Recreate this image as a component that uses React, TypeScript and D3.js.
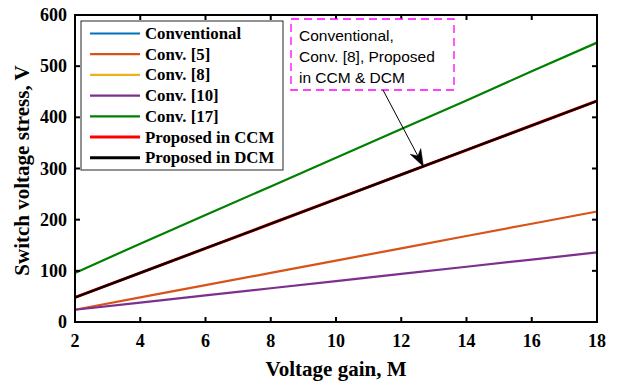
import React from "react";
import * as d3 from "d3";

// Voltage gain M sampled along the x-axis
const gains = [2, 4, 6, 8, 10, 12, 14, 16, 18];

// Switch voltage stress (V) for each converter
const conventional = [48, 96, 144, 192, 240, 288, 336, 384, 432];
const conv5 = [24, 48, 72, 96, 120, 144, 168, 192, 216];
const conv8 = [48, 96, 144, 192, 240, 288, 336, 384, 432];
const conv10 = [24, 38, 52, 66, 80, 94, 108, 122, 136];
const conv17 = [96, 153, 209, 265, 321, 377, 433, 490, 546];
const proposedCCM = [48, 96, 144, 192, 240, 288, 336, 384, 432];
const proposedDCM = [48, 96, 144, 192, 240, 288, 336, 384, 432];

const seriesNames = [
  "Conventional",
  "Conv. [5]",
  "Conv. [8]",
  "Conv. [10]",
  "Conv. [17]",
  "Proposed in CCM",
  "Proposed in DCM",
];
const seriesColors = ["#0072BD", "#D95319", "#EDB120", "#7E2F8E", "#008000", "#FF0000", "#000000"];
const seriesValues = [conventional, conv5, conv8, conv10, conv17, proposedCCM, proposedDCM];

const xTicks = [2, 4, 6, 8, 10, 12, 14, 16, 18];
const yTicks = [0, 100, 200, 300, 400, 500, 600];

const noteLines = ["Conventional,", "Conv. [8], Proposed", "in CCM & DCM"];
const noteTarget = { m: 12.68, v: 304 };

const W = 618;
const H = 383;
const plot = { left: 75, right: 597, top: 15, bottom: 322 };
const serif = "'Liberation Serif', 'Times New Roman', serif";
const sans = "'Liberation Sans', Arial, sans-serif";

export default function App() {
  const x = d3.scaleLinear().domain([2, 18]).range([plot.left, plot.right]);
  const y = d3.scaleLinear().domain([0, 600]).range([plot.bottom, plot.top]);
  const line = d3
    .line<[number, number]>()
    .x((d) => x(d[0]))
    .y((d) => y(d[1]));

  const tick = 5;
  const tipX = x(noteTarget.m);
  const tipY = y(noteTarget.v);
  const startX = 383;
  const startY = 90;
  const ang = Math.atan2(tipY - startY, tipX - startX);
  const headLen = 17;
  const headW = 6;
  const bx = tipX - headLen * Math.cos(ang);
  const by = tipY - headLen * Math.sin(ang);
  const nx = -Math.sin(ang);
  const ny = Math.cos(ang);
  const backX = tipX - headLen * 0.7 * Math.cos(ang);
  const backY = tipY - headLen * 0.7 * Math.sin(ang);
  const headPath = `M${tipX},${tipY} L${bx + nx * headW},${by + ny * headW} L${backX},${backY} L${bx - nx * headW},${by - ny * headW} Z`;

  const legend = { x: 81, y: 21, w: 202, h: 149, row: 20.7, first: 33.5 };

  return (
    <svg
      width={W}
      height={H}
      style={{ position: "absolute", left: 0, top: 0, background: "#fff" }}
    >
      <rect x={0} y={0} width={W} height={H} fill="#fff" />

      {/* data lines */}
      <g fill="none" strokeLinejoin="round">
        {seriesValues.map((vals, i) => (
          <path
            key={seriesNames[i]}
            d={line(gains.map((g, j) => [g, vals[j]] as [number, number])) || ""}
            stroke={seriesColors[i]}
            strokeWidth={i === 5 ? 3 : 2.2}
          />
        ))}
      </g>

      {/* axes box with inward ticks */}
      <g stroke="#000" strokeWidth={2}>
        <rect
          x={plot.left}
          y={plot.top}
          width={plot.right - plot.left}
          height={plot.bottom - plot.top}
          fill="none"
        />
        {xTicks.map((t) => (
          <g key={"xt" + t}>
            <line x1={x(t)} x2={x(t)} y1={plot.bottom} y2={plot.bottom - tick} />
            <line x1={x(t)} x2={x(t)} y1={plot.top} y2={plot.top + tick} />
          </g>
        ))}
        {yTicks.map((t) => (
          <g key={"yt" + t}>
            <line x1={plot.left} x2={plot.left + tick} y1={y(t)} y2={y(t)} />
            <line x1={plot.right} x2={plot.right - tick} y1={y(t)} y2={y(t)} />
          </g>
        ))}
      </g>

      {/* tick labels */}
      <g fontFamily={serif} fontWeight="bold" fontSize={18} fill="#000">
        {xTicks.map((t) => (
          <text key={"xl" + t} x={x(t)} y={347} textAnchor="middle">
            {t}
          </text>
        ))}
        {yTicks.map((t) => (
          <text key={"yl" + t} x={plot.left - 8} y={y(t) + 6} textAnchor="end">
            {t}
          </text>
        ))}
      </g>

      {/* axis titles */}
      <text
        x={(plot.left + plot.right) / 2}
        y={376}
        textAnchor="middle"
        fontFamily={serif}
        fontWeight="bold"
        fontSize={21}
      >
        Voltage gain, M
      </text>
      <text
        transform={`translate(29, ${(plot.top + plot.bottom) / 2 + 2}) rotate(-90)`}
        textAnchor="middle"
        fontFamily={serif}
        fontWeight="bold"
        fontSize={21}
      >
        Switch voltage stress, V
      </text>

      {/* legend */}
      <g>
        <rect
          x={legend.x}
          y={legend.y}
          width={legend.w}
          height={legend.h}
          fill="#fff"
          stroke="#262626"
          strokeWidth={1}
        />
        {seriesNames.map((name, i) => {
          const ly = legend.first + i * legend.row;
          return (
            <g key={"lg" + name}>
              <line
                x1={90}
                x2={140}
                y1={ly}
                y2={ly}
                stroke={seriesColors[i]}
                strokeWidth={i >= 5 ? 3 : 2.2}
              />
              <text
                x={145}
                y={ly + 5.5}
                fontFamily={serif}
                fontWeight="bold"
                fontSize={16.8}
                fill="#000"
              >
                {name}
              </text>
            </g>
          );
        })}
      </g>

      {/* annotation */}
      <rect
        x={291}
        y={19}
        width={163}
        height={71}
        fill="#fff"
        stroke="#FF00FF"
        strokeWidth={1.3}
        strokeDasharray="8 5"
      />
      <g fontFamily={sans} fontSize={15.5} fill="#000">
        {noteLines.map((s, i) => (
          <text key={"nl" + i} x={299} y={41 + i * 21}>
            {s}
          </text>
        ))}
      </g>
      <line x1={startX} y1={startY} x2={backX} y2={backY} stroke="#000" strokeWidth={1} />
      <path d={headPath} fill="#000" stroke="#000" strokeWidth={0.5} />
    </svg>
  );
}
